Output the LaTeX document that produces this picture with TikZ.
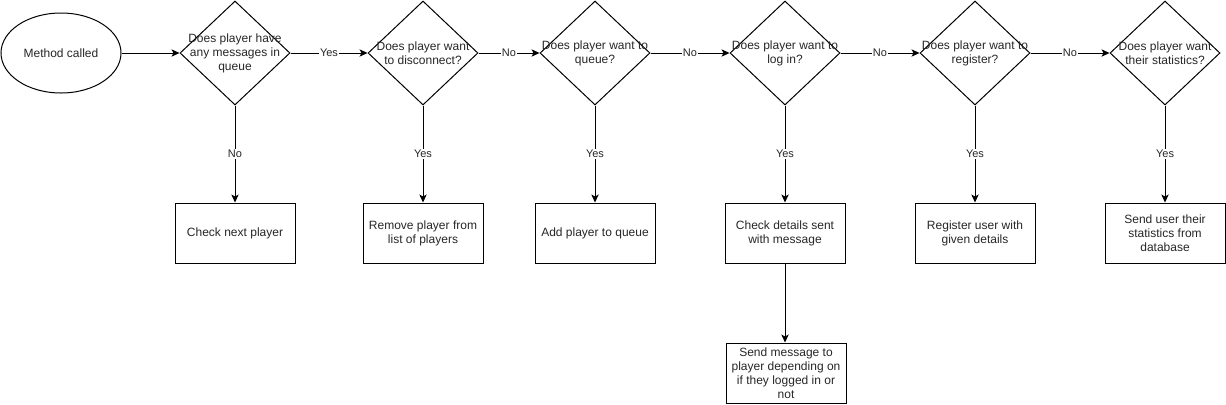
\documentclass[tikz,border=0pt]{standalone}
\usepackage{fontspec}
\setmainfont{Liberation Sans}
\usetikzlibrary{shapes.geometric,arrows.meta}
\begin{document}
\begin{tikzpicture}[x=0.75pt,y=-0.75pt,
  every node/.style={font=\fontsize{9}{10.5}\selectfont, text=black!85},
  dia/.style={draw, diamond, minimum width=82.5pt, minimum height=78pt, inner sep=0pt, line width=0.75pt},
  dtext/.style={align=center, inner sep=0pt},
  stepbox/.style={draw, rectangle, minimum width=90pt, minimum height=45pt, align=center, inner sep=0pt, line width=0.75pt},
  term/.style={draw, ellipse, minimum width=90pt, minimum height=60pt, inner sep=0pt, line width=0.75pt},
  conn/.style={line width=0.75pt, -{Stealth[length=6pt,width=5.5pt,inset=1.5pt]}},
  lbl/.style={fill=white, inner sep=1pt, font=\fontsize{8.25}{9}\selectfont}
]
\useasboundingbox (0,0) rectangle (1226,404);

\node[term] (start) at (61,53) {Method called};

\node[dia] (d1) at (235,53) {};
\node[dtext] (d1t) at (d1) {Does player have\\any messages in\\queue};
\node[dia] (d2) at (423,53) {};
\node[dtext] (d2t) at (d2) {Does player want\\to disconnect?};
\node[dia] (d3) at (595,53) {};
\node[dtext] (d3t) at (d3) {Does player want to\\queue?};
\node[dia] (d4) at (785,53) {};
\node[dtext] (d4t) at (d4) {Does player want to\\log in?};
\node[dia] (d5) at (975,53) {};
\node[dtext] (d5t) at (d5) {Does player want to\\register?};
\node[dia] (d6) at (1165,53) {};
\node[dtext] (d6t) at (d6) {Does player want\\their statistics?};

\node[stepbox] (b1) at (235,233) {Check next player};
\node[stepbox] (b2) at (423,233) {Remove player from\\list of players};
\node[stepbox] (b3) at (595,233) {Add player to queue};
\node[stepbox] (b4) at (785,233) {Check details sent\\with message};
\node[stepbox] (b5) at (975,233) {Register user with\\given details};
\node[stepbox] (b6) at (1165,233) {Send user their\\statistics from\\database};
\node[stepbox] (b7) at (786,373) {Send message to\\player depending on\\if they logged in or\\not};

\draw[conn] (start) -- (d1);
\draw[conn] (d1) -- node[lbl] {Yes} (d2);
\draw[conn] (d2) -- node[lbl] {No} (d3);
\draw[conn] (d3) -- node[lbl] {No} (d4);
\draw[conn] (d4) -- node[lbl] {No} (d5);
\draw[conn] (d5) -- node[lbl] {No} (d6);

\draw[conn] (d1) -- node[lbl] {No} (b1);
\draw[conn] (d2) -- node[lbl] {Yes} (b2);
\draw[conn] (d3) -- node[lbl] {Yes} (b3);
\draw[conn] (d4) -- node[lbl] {Yes} (b4);
\draw[conn] (d5) -- node[lbl] {Yes} (b5);
\draw[conn] (d6) -- node[lbl] {Yes} (b6);
\draw[conn] (b4) -- (b4 |- b7.north);
\end{tikzpicture}
\end{document}
